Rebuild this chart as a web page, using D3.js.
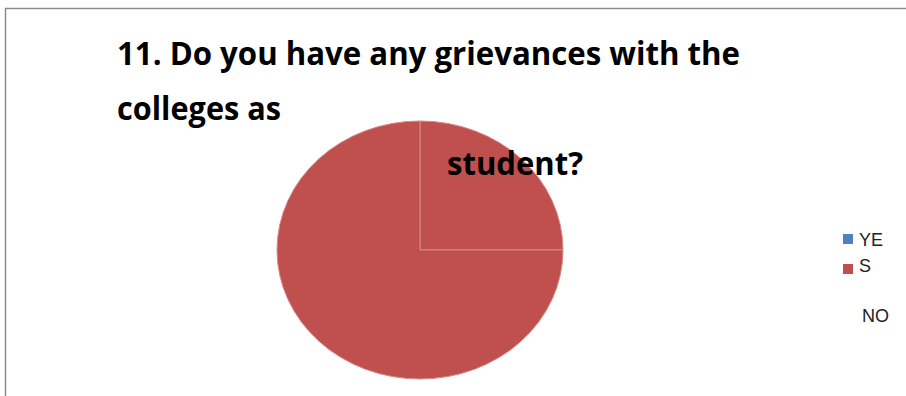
<!DOCTYPE html>
<html><head><meta charset="utf-8">
<script src="https://cdn.jsdelivr.net/npm/d3@7"></script>
<style>html,body{margin:0;padding:0;background:#fff;}svg{display:block;}</style>
</head><body>
<svg id="c" width="906" height="396"></svg>
<script>
// Data
const categories = ["YES", "NO"];
const categoryColors = ["#4f81bd", "#c0504d"];
// slices as drawn in the picture (YES = 0; NO area appears split into two segments)
const sliceLabels = ["YES", "NO", "NO"];
const sliceValues = [0, 25, 75];
const titleLines = ["11. Do you have any grievances with the", "colleges as", "student?"];
const legendLines = [["YE", "S"], ["NO"]];

const svg = d3.select("#c");
const font = "'Open Sans', 'Liberation Sans', sans-serif";

// frame
svg.append("path").attr("d", "M5.5,396 V8.5 H906").attr("fill", "none")
  .attr("stroke", "#8c8c8c").attr("stroke-width", 1.5);

// pie (elliptical)
const cx = 420, cy = 250, rx = 143, ry = 129;
const color = d3.scaleOrdinal().domain(categories).range(categoryColors);
const pie = d3.pie().sort(null).value((d, i) => sliceValues[i]);
const arcs = pie(sliceLabels);
const arc = d3.arc().innerRadius(0).outerRadius(rx);
const g = svg.append("g").attr("transform", `translate(${cx},${cy}) scale(1,${ry / rx})`);
g.selectAll("path").data(arcs).join("path")
  .attr("d", arc)
  .attr("fill", d => color(d.data))
  .attr("stroke", "#d98a88")
  .attr("stroke-width", 1)
  .attr("vector-effect", "non-scaling-stroke");

// title
const t = svg.append("g").attr("font-family", font).attr("font-weight", "bold")
  .attr("font-size", 32).attr("fill", "#000");
t.append("text").attr("x", 117).attr("y", 65).attr("textLength", 623)
  .attr("lengthAdjust", "spacingAndGlyphs").text(titleLines[0]);
t.append("text").attr("x", 117).attr("y", 120).attr("textLength", 164)
  .attr("lengthAdjust", "spacingAndGlyphs").text(titleLines[1]);
t.append("text").attr("x", 447).attr("y", 175).attr("textLength", 136)
  .attr("lengthAdjust", "spacingAndGlyphs").text(titleLines[2]);

// legend
const lg = svg.append("g").attr("font-family", "'Liberation Sans Narrow', 'Liberation Sans', sans-serif")
  .attr("font-size", 18).attr("fill", "#222");
const legY = d3.scaleOrdinal().domain(categories).range([234, 264]);
categories.forEach((c, i) => {
  lg.append("rect").attr("x", 843).attr("y", legY(c)).attr("width", 10).attr("height", 10)
    .attr("fill", color(c));
});
lg.append("text").attr("x", 859).attr("y", 246).text(legendLines[0][0]);
lg.append("text").attr("x", 859).attr("y", 272).text(legendLines[0][1]);
lg.append("text").attr("x", 862).attr("y", 322).text(legendLines[1][0]);
</script>
</body></html>
